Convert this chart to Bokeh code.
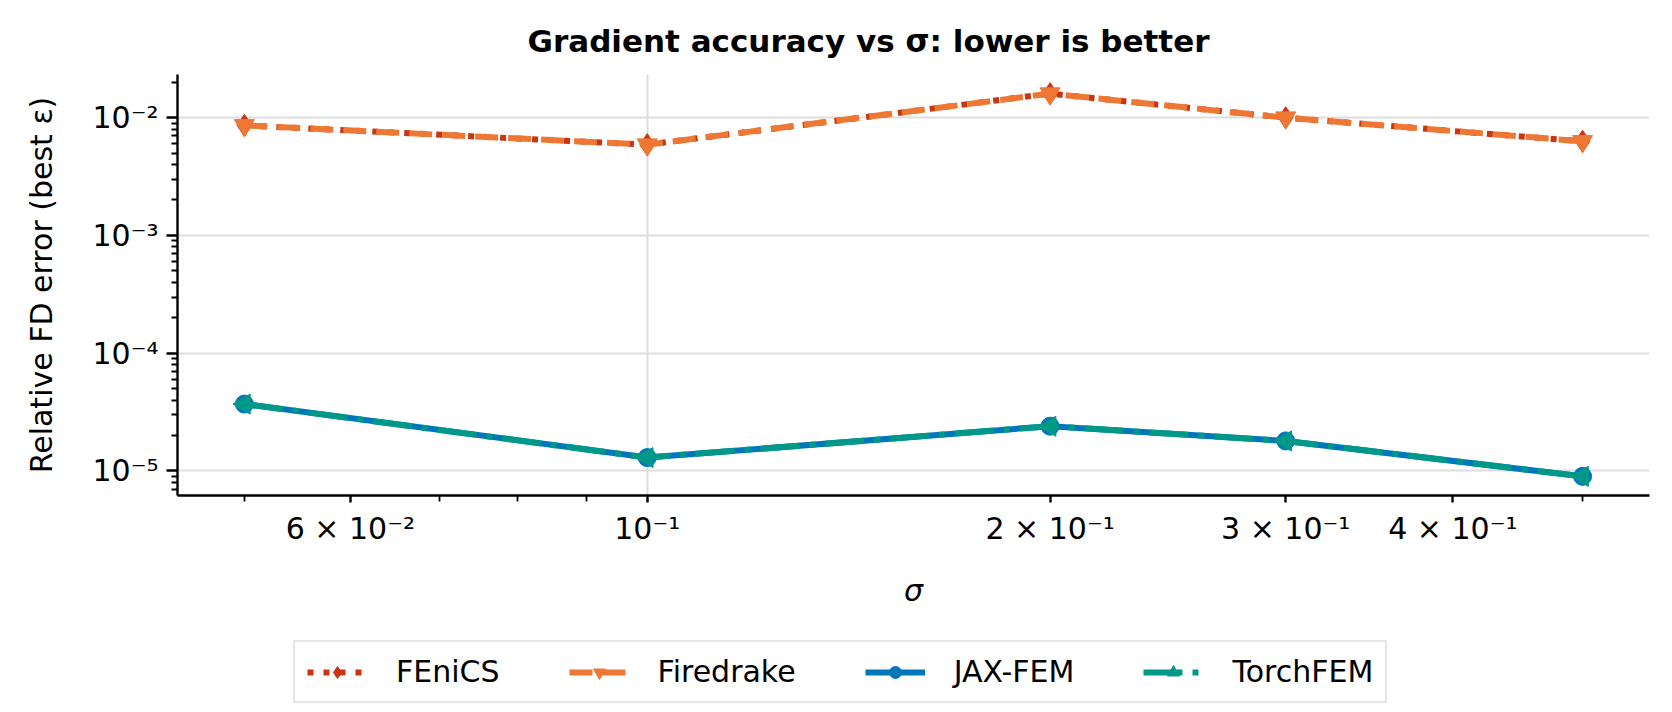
import numpy as np
from bokeh.embed import file_html
from bokeh.layouts import column
from bokeh.models import FixedTicker, Legend, LegendItem
from bokeh.plotting import figure
from bokeh.resources import INLINE

# data
sigma = [0.05, 0.1, 0.2, 0.3, 0.5]
fenics = [8.6e-3, 5.9e-3, 1.6e-2, 1.0e-2, 6.3e-3]
firedrake = [8.6e-3, 5.9e-3, 1.6e-2, 1.0e-2, 6.3e-3]
jax_fem = [3.7e-5, 1.3e-5, 2.4e-5, 1.8e-5, 9.0e-6]
torchfem = [3.7e-5, 1.3e-5, 2.4e-5, 1.8e-5, 9.0e-6]

x_ticks = [0.06, 0.1, 0.2, 0.3, 0.4]
x_tick_labels = ["6 × 10⁻²", "10⁻¹", "2 × 10⁻¹", "3 × 10⁻¹", "4 × 10⁻¹"]
x_minor = [0.05, 0.07, 0.08, 0.09, 0.5]
y_ticks = [1e-5, 1e-4, 1e-3, 1e-2]
y_tick_labels = ["10⁻⁵", "10⁻⁴", "10⁻³", "10⁻²"]

FONT = "DejaVu Sans"


def log_range(values, pad=0.05):
    lo, hi = np.log10(min(values)), np.log10(max(values))
    span = hi - lo
    return 10 ** (lo - pad * span), 10 ** (hi + pad * span)


all_y = fenics + firedrake + jax_fem + torchfem

p = figure(
    x_axis_type="log", y_axis_type="log",
    x_range=log_range(sigma), y_range=log_range(all_y),
    frame_width=1472, frame_height=421,
    min_border_left=177, min_border_right=7,
    min_border_top=74, min_border_bottom=144,
    output_backend="svg", toolbar_location=None,
    title="Gradient accuracy vs σ: lower is better",
)
p.outline_line_color = None

p.title.text_font = FONT
p.title.text_font_size = "31px"
p.title.text_font_style = "bold"
p.title.text_color = "black"
p.title.align = "left"
p.title.offset = 350
p.title.standoff = 31

# axes
p.xaxis.ticker = FixedTicker(ticks=x_ticks, minor_ticks=x_minor)
p.xaxis.major_label_overrides = dict(zip(x_ticks, x_tick_labels))
p.yaxis.ticker = FixedTicker(
    ticks=y_ticks,
    minor_ticks=[k * 10.0 ** e for e in range(-6, -1) for k in range(2, 10)],
)
p.yaxis.major_label_overrides = dict(zip(y_ticks, y_tick_labels))

for ax in (p.xaxis, p.yaxis):
    ax.axis_line_width = 2.4
    ax.major_tick_line_width = 2.4
    ax.minor_tick_line_width = 1.8
    ax.major_tick_in = 0
    ax.minor_tick_in = 0
    ax.minor_tick_out = 6
    ax.major_label_text_font = FONT
    ax.major_label_text_font_size = "30px"
    ax.major_label_text_color = "black"
    ax.axis_label_text_font = FONT
    ax.axis_label_text_font_size = "30px"
    ax.axis_label_text_color = "black"

p.xaxis.major_tick_out = 7
p.xaxis.major_label_standoff = 8
p.xaxis.axis_label = "σ"
p.xaxis.axis_label_text_font_style = "italic"
p.xaxis.axis_label_standoff = 24

p.yaxis.major_tick_out = 11
p.yaxis.major_label_standoff = 8
p.yaxis.axis_label = "Relative FD error (best ε)"
p.yaxis.axis_label_text_font_style = "normal"
p.yaxis.axis_label_standoff = 30

p.xgrid.ticker = FixedTicker(ticks=[0.1])
for g in (p.xgrid, p.ygrid):
    g.grid_line_color = "#dedede"
    g.grid_line_width = 2

# legend lives in its own strip under the plot
leg_fig = figure(
    width=1656, height=64, min_border=0,
    x_range=(10, 11), y_range=(10, 11),
    x_axis_location=None, y_axis_location=None,
    output_backend="svg", toolbar_location=None,
)
leg_fig.outline_line_color = None
leg_fig.grid.visible = False

# series
series = [
    ("FEniCS", fenics, "#CC3311", "6 10", "diamond", 0.0, 22),
    ("Firedrake", firedrake, "#EE7733", "23 10", "inverted_triangle", 0.0, 20),
    ("JAX-FEM", jax_fem, "#0077BB", "solid", "circle", 0.0, 18),
    ("TorchFEM", torchfem, "#009988", "39 10 6 10", "triangle", np.pi / 2, 20),
]
items = []
for name, ys, color, dash, marker, angle, size in series:
    line_kw = dict(line_color=color, line_width=6, line_dash=dash, line_join="round")
    mark_kw = dict(marker=marker, angle=angle, size=size,
                   fill_color=color, line_color=color)
    p.line(sigma, ys, **line_kw)
    p.scatter(sigma, ys, **mark_kw)
    # same glyphs in the legend strip, outside its visible range
    ln = leg_fig.line(sigma, ys, **line_kw)
    sc = leg_fig.scatter(sigma, ys, **mark_kw)
    items.append(LegendItem(label=name, renderers=[ln, sc]))

lg = Legend(items=items, orientation="horizontal", location=(116, 0))
lg.border_line_color = "#cccccc"
lg.border_line_width = 2.4
lg.background_fill_alpha = 0.8
lg.padding = 12
lg.spacing = 69
lg.margin = 0
lg.glyph_width = 60
lg.glyph_height = 30
lg.label_standoff = 29
lg.label_text_font = FONT
lg.label_text_font_size = "30px"
lg.label_text_color = "black"
leg_fig.add_layout(lg, "center")

open("out.html", "w").write(file_html(column(p, leg_fig, spacing=0), INLINE))
